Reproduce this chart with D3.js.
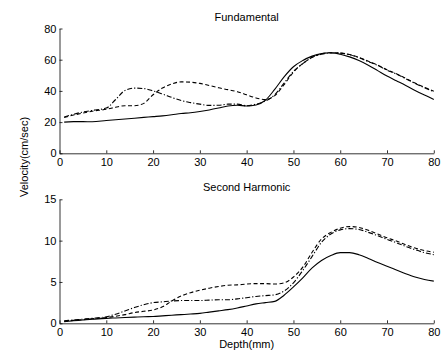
<!DOCTYPE html>
<html>
<head>
<meta charset="utf-8">
<script src="https://cdn.jsdelivr.net/npm/d3@7"></script>
<style>
  body { margin: 0; background: #fff; }
  svg text { font-family: "Liberation Sans", Arial, sans-serif; }
</style>
</head>
<body>
<div id="plot"></div>
<script>
// depth samples (mm), shared by every curve
var depth = [1,3,5,7,10,12,14,16,18,20,22,24,26,28,30,32,34,36,38,40,42,44,46,48,50,52,54,56,58,60,62,64,66,68,70,72,74,76,78,80];

// Fundamental
var fundSolid   = [20,20.3,20.3,20.2,21,21.5,22,22.5,23,23.5,24,24.7,25.5,26,26.8,27.8,29,30.3,30.8,30.3,31,34,41,49,55.5,59.5,62.3,64,64.5,63.5,61.8,59.5,56.5,53,49.5,46.5,43.5,40.3,37.3,34.5];
var fundDashed  = [23,24.5,25.8,27,28.2,29.5,30.5,30.5,32,37.5,41.8,44.5,45.8,45.6,44.8,43.5,42,40.8,39.5,37.5,35.5,34.5,37,44,52,57.5,61.5,63.8,64.5,64.3,63.3,61.5,59,56.5,53.5,51,48,45,42.3,39.8];
var fundDashDot = [23.3,25,26.5,27.5,29,34.5,40.3,41.8,41.5,40,38,35.8,33.8,32.5,31.5,30.7,30.8,31.5,31.5,30.5,31.5,33.5,37.5,45,52.5,57.5,61.5,63.5,64.3,64.2,63.2,61.3,58.8,56.3,53.3,50.8,47.8,44.8,42,39.5];

// Second harmonic
var harmSolid   = [0.2,0.3,0.4,0.5,0.6,0.65,0.7,0.75,0.8,0.82,0.9,0.98,1.05,1.12,1.2,1.35,1.5,1.65,1.85,2.1,2.35,2.5,2.65,3.4,4.4,5.5,6.7,7.6,8.2,8.55,8.55,8.3,7.85,7.35,6.9,6.45,6.0,5.6,5.3,5.1];
var harmDashed  = [0.25,0.35,0.45,0.55,0.7,0.85,1.05,1.3,1.45,1.6,2.0,2.7,3.3,3.7,4.0,4.25,4.45,4.6,4.65,4.75,4.8,4.8,4.75,4.9,5.6,6.8,8.6,10.2,11.0,11.5,11.7,11.6,11.25,10.8,10.35,9.95,9.5,9.1,8.8,8.6];
var harmDashDot = [0.3,0.4,0.5,0.6,0.8,1.1,1.5,1.9,2.25,2.5,2.6,2.7,2.75,2.75,2.75,2.8,2.85,2.85,2.95,3.1,3.25,3.35,3.45,3.9,4.9,6.4,8.1,9.8,10.8,11.3,11.45,11.35,11.0,10.6,10.15,9.75,9.3,8.9,8.55,8.3];

var xTicks = [0,10,20,30,40,50,60,70,80];
var fundTicks = [0,20,40,60,80];
var harmTicks = [0,5,10,15];

var W = 443, H = 358;
var svg = d3.select("#plot").append("svg")
  .attr("width", W)
  .attr("height", H)
  .style("background", "#fff");

var x = d3.scaleLinear().domain([0, 80]).range([59.5, 433.8]);

function panel(title, top, bottom, yMax, yTicks, series) {
  var y = d3.scaleLinear().domain([0, yMax]).range([bottom, top]);

  svg.append("g")
    .attr("transform", "translate(0," + bottom + ")")
    .call(d3.axisBottom(x).tickValues(xTicks).tickSizeInner(-3).tickSizeOuter(0).tickPadding(4))
    .call(g => g.selectAll("text").attr("font-size", 11).attr("fill", "#000").attr("dy", "0.8em"))
    .call(g => g.selectAll("line,path").attr("stroke", "#000").attr("stroke-width", 0.8));

  svg.append("g")
    .attr("transform", "translate(59.5,0)")
    .call(d3.axisLeft(y).tickValues(yTicks).tickSizeInner(-3).tickSizeOuter(0).tickPadding(3))
    .call(g => g.selectAll("text").attr("font-size", 11).attr("fill", "#000"))
    .call(g => g.selectAll("line,path").attr("stroke", "#000").attr("stroke-width", 0.8));

  svg.append("text")
    .attr("x", (x(0) + x(80)) / 2)
    .attr("y", top - 8)
    .attr("text-anchor", "middle")
    .attr("font-size", 11)
    .text(title);

  var line = d3.line()
    .x((d, i) => x(depth[i]))
    .y(d => y(d))
    .curve(d3.curveMonotoneX);

  series.forEach(function(s) {
    svg.append("path")
      .datum(s.values)
      .attr("d", line)
      .attr("fill", "none")
      .attr("stroke", "#000")
      .attr("stroke-width", 1.1)
      .attr("stroke-dasharray", s.dash);
  });
}

panel("Fundamental", 28.5, 153.3, 80, fundTicks, [
  {values: fundSolid, dash: null},
  {values: fundDashed, dash: "4,2.5"},
  {values: fundDashDot, dash: "5,2,1.2,2"}
]);

panel("Second Harmonic", 199.3, 323.3, 15, harmTicks, [
  {values: harmSolid, dash: null},
  {values: harmDashed, dash: "4,2.5"},
  {values: harmDashDot, dash: "5,2,1.2,2"}
]);

svg.append("text")
  .attr("transform", "translate(28,157) rotate(-90)")
  .attr("text-anchor", "middle")
  .attr("font-size", 11)
  .text("Velocity(cm/sec)");

svg.append("text")
  .attr("x", (x(0) + x(80)) / 2)
  .attr("y", 348)
  .attr("text-anchor", "middle")
  .attr("font-size", 11)
  .text("Depth(mm)");
</script>
</body>
</html>
